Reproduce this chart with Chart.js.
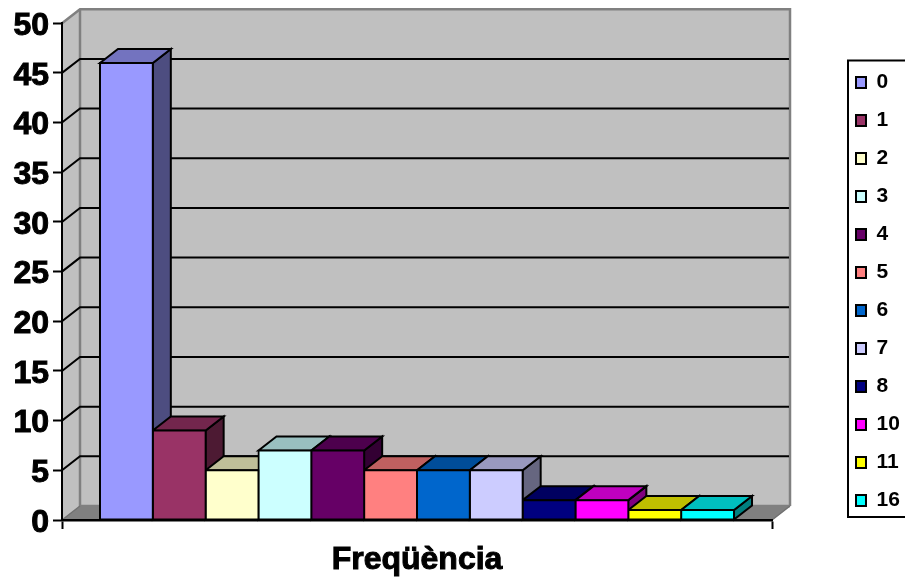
<!DOCTYPE html>
<html><head><meta charset="utf-8">
<style>html,body{margin:0;padding:0;background:#fff;overflow:hidden}#w{width:905px;height:579px;position:relative}</style>
<script src="https://cdn.jsdelivr.net/npm/chart.js@4"></script>
</head><body><div id="w"><canvas id="c" width="905" height="579"></canvas></div>
<script>
const axisCategory = ['Freqüència'];
const seriesNames = ['0','1','2','3','4','5','6','7','8','10','11','16'];
const seriesValues = [46,9,5,7,7,5,5,5,2,2,1,1];
const seriesColors = ['#9999FF','#993366','#FFFFCC','#CCFFFF','#660066','#FF8080','#0066CC','#CCCCFF','#000080','#FF00FF','#FFFF00','#00FFFF'];
const DX = 18, DY = 14;

function shade(hex, f){
  const n = parseInt(hex.slice(1),16);
  return 'rgb('+[(n>>16)&255,(n>>8)&255,n&255].map(v=>Math.round(v*f)).join(',')+')';
}
function poly(ctx, pts, fill, stroke, lw){
  ctx.beginPath();
  pts.forEach((p,i)=> i?ctx.lineTo(p[0],p[1]):ctx.moveTo(p[0],p[1]));
  ctx.closePath();
  if(fill){ctx.fillStyle=fill;ctx.fill();}
  if(stroke){ctx.strokeStyle=stroke;ctx.lineWidth=lw;ctx.lineJoin='miter';ctx.stroke();}
}
const scene = {
  id:'scene',
  beforeLayout(chart){
    const lg = chart.legend;
    if(lg && !lg._wrapped){
      const f = lg.fit.bind(lg);
      lg.fit = function(){ f(); this.width = 133; };
      lg._wrapped = true;
    }
  },
  afterLayout(chart){
    const lg = chart.legend;
    lg.left = 839; lg.right = 905; lg.top = 55; lg.bottom = 530; lg.width = 66;
  },
  beforeDraw(chart){
    const ctx = chart.ctx, a = chart.chartArea, y = chart.scales.y;
    ctx.save();
    // legend frame
    ctx.strokeStyle='#000';ctx.lineWidth=2;ctx.strokeRect(848,60.5,70,456.5);
    // walls
    const L=a.left,R=a.right,T=a.top,B=a.bottom;
    poly(ctx,[[L,T],[L+DX,T-DY],[L+DX,B-DY],[L,B]],'#C0C0C0');
    poly(ctx,[[L+DX,T-DY],[R+DX,T-DY],[R+DX,B-DY],[L+DX,B-DY]],'#C0C0C0');
    poly(ctx,[[L,B],[L+DX,B-DY],[R+DX,B-DY],[R,B]],'#808080');
    ctx.strokeStyle='#808080';ctx.lineWidth=2.5;
    ctx.beginPath();ctx.moveTo(L,T);ctx.lineTo(L+DX,T-DY);ctx.lineTo(R+DX,T-DY);ctx.lineTo(R+DX,B-DY);ctx.stroke();
    ctx.beginPath();ctx.moveTo(L+DX,T-DY);ctx.lineTo(L+DX,B-DY);ctx.lineTo(R+DX,B-DY);ctx.stroke();
    ctx.strokeStyle='#707070';ctx.lineWidth=1.5;
    ctx.beginPath();ctx.moveTo(L,B);ctx.lineTo(L+DX,B-DY);ctx.moveTo(R,B);ctx.lineTo(R+DX,B-DY);ctx.stroke();
    // gridlines
    ctx.strokeStyle='#000';ctx.lineWidth=2;
    y.ticks.forEach(t=>{
      if(t.value===y.min||t.value===y.max) return;
      const p=y.getPixelForValue(t.value);
      ctx.beginPath();ctx.moveTo(L,p);ctx.lineTo(L+DX,p-DY);ctx.lineTo(R+DX-1,p-DY);ctx.stroke();
    });
    ctx.restore();
  },
  beforeDatasetsDraw(chart){
    const ctx = chart.ctx;
    ctx.save();
    seriesValues.forEach((v,i)=>{
      const el = chart.getDatasetMeta(i).data[0];
      const l = el.x-el.width/2, r = el.x+el.width/2, t = el.y, b = el.base;
      const c = seriesColors[i];
      poly(ctx,[[r,t],[r+DX,t-DY],[r+DX,b-DY],[r,b]],shade(c,0.5),'#000',2);
      poly(ctx,[[l,t],[l+DX,t-DY],[r+DX,t-DY],[r,t]],shade(c,0.75),'#000',2);
    });
    ctx.restore();
  }
};
const fam = '"Liberation Sans",Arial,sans-serif';
new Chart(document.getElementById('c'),{
  type:'bar',
  data:{
    labels:axisCategory,
    datasets:seriesNames.map((n,i)=>({
      label:n,data:[seriesValues[i]],backgroundColor:seriesColors[i],
      borderColor:'#000',borderWidth:2,borderSkipped:false,inflateAmount:1,
      barPercentage:1,categoryPercentage:0.893
    }))
  },
  options:{
    responsive:false,animation:false,events:[],
    layout:{padding:{left:0,right:0,top:22,bottom:0}},
    plugins:{
      title:{display:false},tooltip:{enabled:false},
      legend:{display:true,position:'right',align:'start',
        labels:{boxWidth:10,boxHeight:11,padding:17,color:'#000',
          font:{family:fam,weight:'bold',size:21}}}
    },
    scales:{
      x:{
        afterFit(s){s.height=59;},
        grid:{offset:true,drawOnChartArea:false,drawTicks:true,tickLength:9,tickColor:'#000',tickWidth:2,color:'#000'},
        border:{color:'#000',width:2.5},
        ticks:{color:'#000',padding:12,maxRotation:0,textStrokeColor:'#000',textStrokeWidth:1,font:{family:fam,weight:'bold',size:32}}
      },
      y:{
        min:0,max:50,
        afterFit(s){s.width=62;},
        grid:{drawOnChartArea:false,drawTicks:true,tickLength:9,tickColor:'#000',tickWidth:2,color:'#000'},
        border:{color:'#000',width:2},
        ticks:{stepSize:5,color:'#000',padding:4,labelOffset:3,textStrokeColor:'#000',textStrokeWidth:1,font:{family:fam,weight:'bold',size:32}}
      }
    }
  },
  plugins:[scene]
});
</script></body></html>
